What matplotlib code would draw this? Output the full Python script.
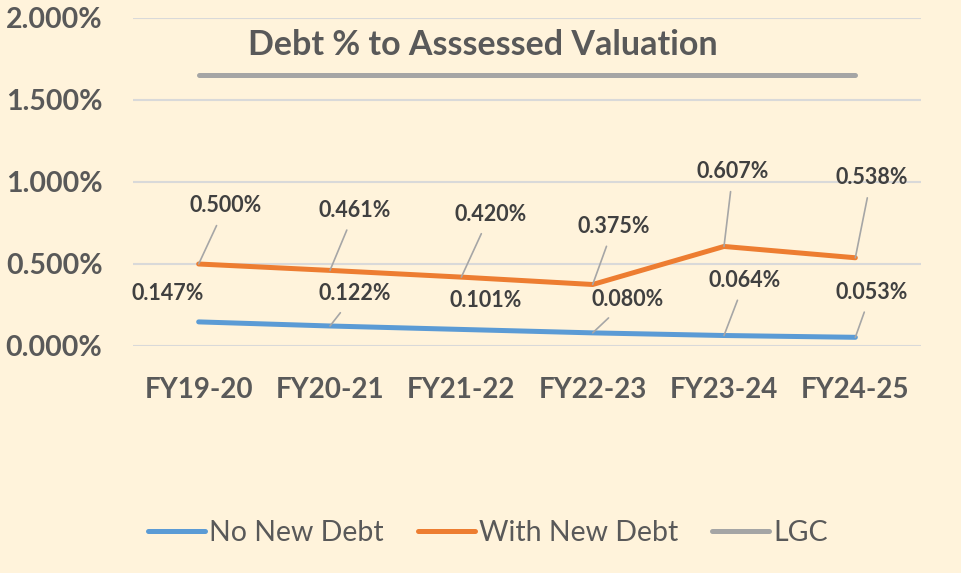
import numpy as np
import matplotlib
matplotlib.use('Agg')
import matplotlib.pyplot as plt
from matplotlib.ticker import FuncFormatter

# Data (percent of assessed valuation)
years = ['FY19-20', 'FY20-21', 'FY21-22', 'FY22-23', 'FY23-24', 'FY24-25']
no_new_debt = [0.147, 0.122, 0.101, 0.080, 0.064, 0.053]
with_new_debt = [0.500, 0.461, 0.420, 0.375, 0.607, 0.538]
lgc_value = 1.65

# label offsets in pixels (dx, dy up) and whether a leader line is shown
orange_offsets = [(27, 58), (25, 60), (29, 63), (21, 58), (9, 75), (16, 80)]
orange_leader = [True, True, True, True, True, True]
blue_offsets = [(-31, 28), (25, 32), (24, 29), (35, 33), (21, 55), (16, 45)]
blue_leader = [False, True, False, True, True, True]

bg = '#FFF3DB'
blue = '#5B9BD5'
orange = '#ED7D31'
gray = '#A5A5A5'
text_dark = '#404040'
axis_text = '#595959'

plt.rcParams['font.family'] = ['Lato', 'DejaVu Sans']

fig = plt.figure(figsize=(9.62, 5.73), dpi=100, facecolor=bg)
ax = fig.add_axes([133 / 962, 1 - 346 / 573, 788 / 962, 328 / 573])
ax.set_facecolor(bg)

x = np.arange(len(years))
ax.plot(x, no_new_debt, color=blue, lw=3.6, solid_capstyle='round', label='No New Debt', zorder=3)
ax.plot(x, with_new_debt, color=orange, lw=3.6, solid_capstyle='round', label='With New Debt', zorder=3)
ax.plot(x, [lgc_value] * len(x), color=gray, lw=3.6, solid_capstyle='round', label='LGC', zorder=3)

ax.set_xlim(-0.5, len(years) - 0.5)
ax.set_ylim(0, 2.0)
ax.set_yticks([0, 0.5, 1.0, 1.5, 2.0])
ax.yaxis.set_major_formatter(FuncFormatter(lambda v, p: f'{v:.3f}%'))
ax.set_xticks(x)
ax.set_xticklabels(years)
ax.grid(axis='y', color='#D9D9D9', lw=1.5, zorder=0)
ax.set_axisbelow(True)
for s in ax.spines.values():
    s.set_visible(False)
ax.tick_params(length=0, colors=axis_text)
ax.tick_params(axis='y', pad=22)
ax.tick_params(axis='x', pad=22)
for lab in ax.get_xticklabels():
    lab.set_fontsize(20)
    lab.set_fontweight('bold')
    lab.set_color(axis_text)
for lab in ax.get_yticklabels():
    lab.set_fontsize(20.5)
    lab.set_fontweight('bold')
    lab.set_color(axis_text)


def add_labels(values, offsets, leaders):
    for i, (v, off, lead) in enumerate(zip(values, offsets, leaders)):
        props = None
        if lead:
            props = dict(arrowstyle='-', color='#A6A6A6', lw=1.2, shrinkA=5, shrinkB=0)
        ax.annotate(f'{v:.3f}%', xy=(i, v), xytext=off, textcoords='offset pixels',
                    ha='center', va='center', fontsize=15.5, fontweight='bold',
                    color=text_dark, arrowprops=props, zorder=4)


add_labels(with_new_debt, orange_offsets, orange_leader)
add_labels(no_new_debt, blue_offsets, blue_leader)

fig.text(483 / 962, 1 - 45 / 573, 'Debt % to Asssessed Valuation', ha='center', va='center',
         fontsize=24.5, fontweight='bold', color=axis_text)

leg = fig.legend(loc='center', bbox_to_anchor=(488 / 962, 1 - 533 / 573), ncol=3, frameon=False,
                 fontsize=20.5, handlelength=2.0, handletextpad=0.15, columnspacing=1.2)
for t in leg.get_texts():
    t.set_color(axis_text)

fig.savefig('out.png', dpi=100, facecolor=bg)
